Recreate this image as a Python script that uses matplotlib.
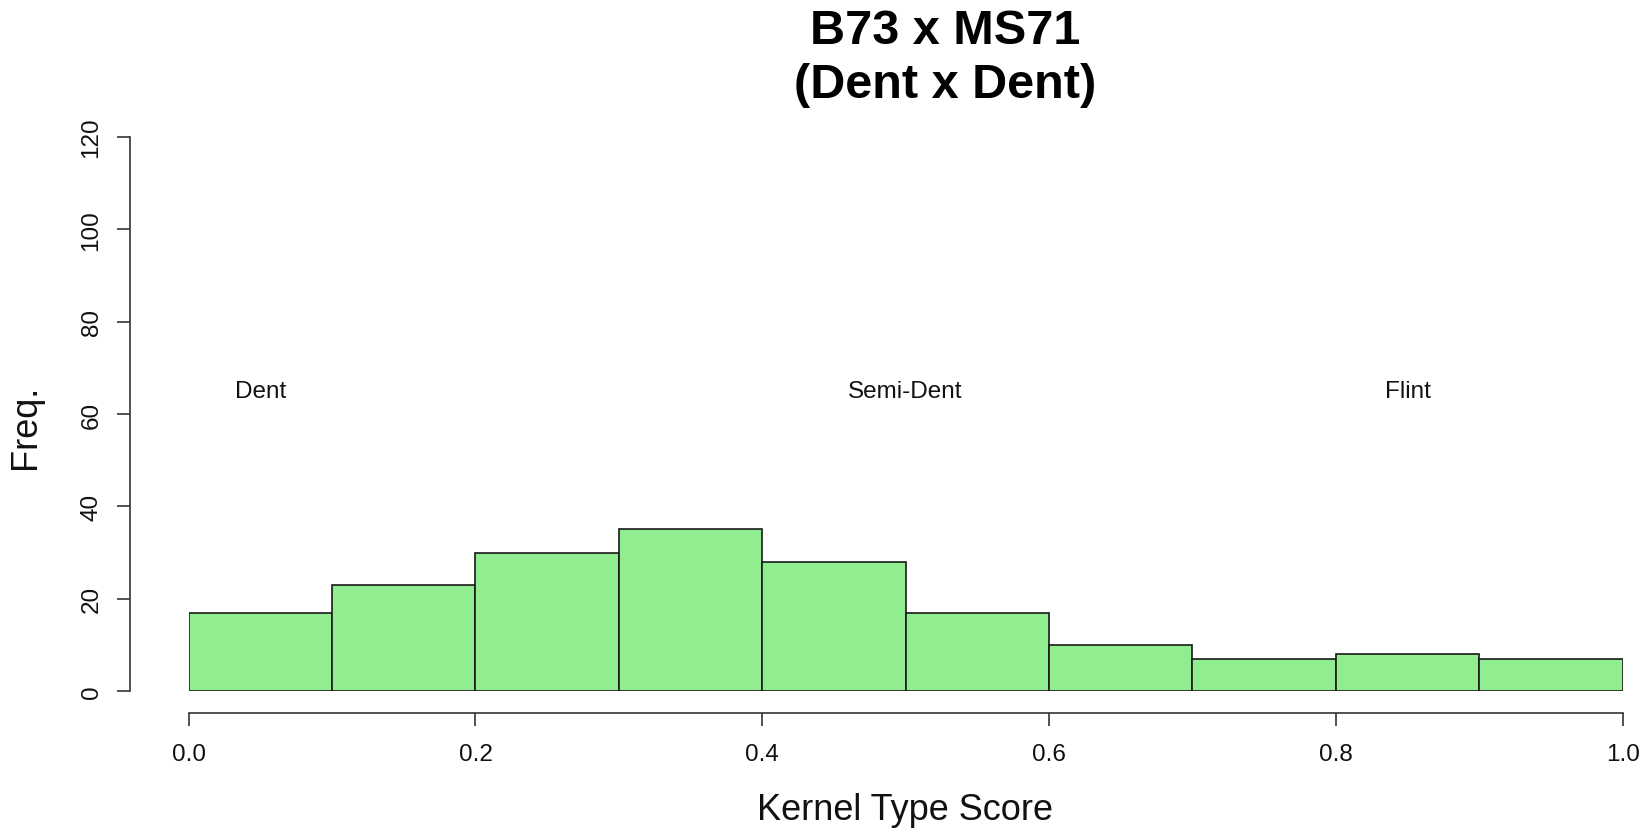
import numpy as np
import matplotlib
matplotlib.use('Agg')
import matplotlib.pyplot as plt

plt.rcParams['font.family'] = ['Liberation Sans', 'DejaVu Sans']

# histogram of kernel type scores (bin edges + counts)
bin_edges = [0.0, 0.1, 0.2, 0.3, 0.4, 0.5, 0.6, 0.7, 0.8, 0.9, 1.0]
counts = [17, 23, 30, 35, 28, 17, 10, 7, 8, 7]

x_ticks = [0.0, 0.2, 0.4, 0.6, 0.8, 1.0]
y_ticks = [0, 20, 40, 60, 80, 100, 120]

region_labels = ['Dent', 'Semi-Dent', 'Flint']
region_x = [0.05, 0.5, 0.85]
region_y = 65

fig = plt.figure(figsize=(16.52, 8.37), dpi=100)
ax = fig.add_axes([0.1142, 0.1732, 0.8680, 0.6619])

lefts = np.array(bin_edges[:-1])
widths = np.diff(bin_edges)
ax.bar(lefts, counts, width=widths, align='edge', color='#90EE90',
       edgecolor='#1a1a1a', linewidth=1.2)

for lab, xx in zip(region_labels, region_x):
    ax.text(xx, region_y, lab, ha='center', va='center', fontsize=17.5, color='#111111')

ax.set_xlim(0, 1)
ax.set_ylim(0, 120)

for s in ['top', 'right']:
    ax.spines[s].set_visible(False)
ax.spines['left'].set_position(('outward', 42.5))
ax.spines['bottom'].set_position(('outward', 15.8))
ax.spines['left'].set_bounds(0, 120)
ax.spines['bottom'].set_bounds(0, 1)
for s in ['left', 'bottom']:
    ax.spines[s].set_color('#333333')
    ax.spines[s].set_linewidth(1.2)

ax.set_xticks(x_ticks)
ax.set_xticklabels(['%.1f' % v for v in x_ticks])
ax.set_yticks(y_ticks)
ax.set_yticklabels([str(v) for v in y_ticks], rotation=90, va='center')
ax.tick_params(axis='both', length=9.5, width=1.2, color='#333333',
               labelsize=17.5, labelcolor='#111111')
ax.tick_params(axis='x', pad=12)
ax.tick_params(axis='y', pad=10)

fig.text(905 / 1652, 1 - 811 / 837, 'Kernel Type Score', ha='center', va='center',
         fontsize=26, color='#111111')
fig.text(26 / 1652, 1 - 427 / 837, 'Freq.', ha='center', va='center',
         rotation=90, fontsize=26, color='#111111')

fig.text(945 / 1652, 1 - 31 / 837, 'B73 x MS71', ha='center', va='center',
         fontsize=35, fontweight='bold')
fig.text(945 / 1652, 1 - 85 / 837, '(Dent x Dent)', ha='center', va='center',
         fontsize=35, fontweight='bold')

fig.savefig('out.png', dpi=100, facecolor='white')
